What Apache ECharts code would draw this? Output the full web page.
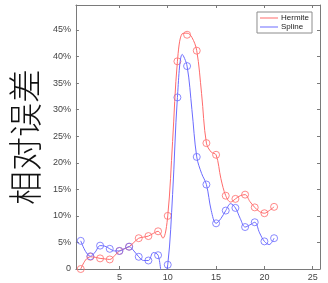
<!DOCTYPE html>
<html>
<head>
<meta charset="utf-8">
<script src="https://cdn.jsdelivr.net/npm/echarts@6/dist/echarts.min.js"></script>
<style>
  html, body { margin: 0; padding: 0; background: #fff; }
  #chart { width: 328px; height: 283px; }
</style>
</head>
<body>
<div id="chart"></div>
<script>
// 표본 점 (x = 1..21)
const xs = [1,2,3,4,5,6,7,8,9,10,11,12,13,14,15,16,17,18,19,20,21];
const hermite = [0,2.3,2.0,1.8,3.4,4.2,5.8,6.2,7.1,10.0,39.1,44.1,41.1,23.7,21.5,13.8,13.2,14.0,11.6,10.5,11.7];
const spline  = [5.3,2.4,4.4,3.8,3.4,4.2,2.3,1.6,2.6,0.8,32.3,38.2,21.1,15.9,8.6,11.0,11.5,7.9,8.8,5.2,5.8];

// 보간 곡선 (0.5 간격, 그림에서 읽은 값)
const curveX = [1,1.5,2,2.5,3,3.5,4,4.5,5,5.5,6,6.5,7,7.5,8,8.5,9,9.5,10,10.5,11,11.5,12,12.5,13,13.5,14,14.5,15,15.5,16,16.5,17,17.5,18,18.5,19,19.5,20,20.5,21];
const hermiteCurve = [0,1.7,2.3,2.2,2.0,1.9,1.8,2.5,3.4,3.8,4.2,5.0,5.8,6.0,6.2,6.7,7.1,5.8,10.0,24,39.1,44.3,44.4,43.6,41.1,33,23.7,22.0,21.5,17.0,13.8,12.6,13.2,13.8,14.0,12.7,11.6,10.8,10.5,11.0,11.7];
const splineCurve  = [5.3,3.3,2.4,3.2,4.4,4.3,3.8,3.4,3.4,3.8,4.2,3.4,2.3,1.6,1.6,3.1,2.6,-2.0,0.8,14,32.3,40.4,38.2,30,21.1,18,15.9,11,8.6,9.5,11.0,12.3,11.5,9.5,7.9,8.3,8.8,6.8,5.2,4.6,5.8];

const xTicks = [5,10,15,20,25];
const yTicks = [0,5,10,15,20,25,30,35,40,45];

const RED = '#ff6b6b';
const BLUE = '#6b6bff';
const AXIS = '#7a7a7a';

const pairs = (a, b) => a.map((v, i) => [v, b[i]]);

const chart = echarts.init(document.getElementById('chart'));

const tickStyle = (vals) => ({ show: true, inside: true, length: 3, customValues: vals, lineStyle: { color: AXIS } });

chart.setOption({
  animation: false,
  grid: { left: 56, right: 8, top: 5, bottom: 14 },
  legend: {
    orient: 'vertical',
    right: 16, top: 12,
    padding: [2, 3, 2, 3],
    itemGap: 1,
    itemWidth: 18, itemHeight: 1,
    icon: 'rect',
    borderColor: '#8c8c8c', borderWidth: 1,
    backgroundColor: '#fff',
    textStyle: { fontSize: 8, color: '#222', fontFamily: 'Liberation Sans', padding: [0, 0, 0, -2] },
    data: ['Hermite', 'Spline']
  },
  xAxis: [
    {
      type: 'value', min: 0.5, max: 25.75,
      axisLine: { show: true, lineStyle: { color: AXIS } },
      axisTick: tickStyle(xTicks),
      axisLabel: { customValues: xTicks, fontSize: 9, color: '#444', margin: 4, fontFamily: 'Liberation Sans' },
      splitLine: { show: false }
    },
    {
      type: 'value', position: 'top', min: 0.5, max: 25.75,
      axisLine: { show: true, onZero: false, lineStyle: { color: AXIS } },
      axisTick: tickStyle(xTicks),
      axisLabel: { show: false },
      splitLine: { show: false }
    }
  ],
  yAxis: [
    {
      type: 'value', min: 0, max: 49.7,
      name: '相对误差',
      nameLocation: 'middle',
      nameGap: 28,
      nameTextStyle: { fontSize: 34, color: '#111', fontFamily: 'Noto Sans CJK SC', fontWeight: 300 },
      axisLine: { show: true, lineStyle: { color: AXIS } },
      axisTick: tickStyle(yTicks),
      axisLabel: {
        customValues: yTicks, fontSize: 9, color: '#444', margin: 5, fontFamily: 'Liberation Sans',
        formatter: v => v === 0 ? '0' : v + '%'
      },
      splitLine: { show: false }
    },
    {
      type: 'value', position: 'right', min: 0, max: 49.7,
      axisLine: { show: true, onZero: false, lineStyle: { color: AXIS } },
      axisTick: tickStyle(yTicks),
      axisLabel: { show: false },
      splitLine: { show: false }
    }
  ],
  series: [
    {
      name: 'Hermite', type: 'line', smooth: 0.35, symbol: 'none', clip: true,
      data: pairs(curveX, hermiteCurve),
      lineStyle: { color: RED, width: 1 }, itemStyle: { color: RED }
    },
    {
      name: 'Spline', type: 'line', smooth: 0.35, symbol: 'none', clip: true,
      data: pairs(curveX, splineCurve),
      lineStyle: { color: BLUE, width: 1 }, itemStyle: { color: BLUE }
    },
    {
      name: 'hermitePts', type: 'scatter', symbol: 'circle', symbolSize: 7,
      data: pairs(xs, hermite),
      itemStyle: { color: 'rgba(0,0,0,0)', borderColor: RED, borderWidth: 1 }
    },
    {
      name: 'splinePts', type: 'scatter', symbol: 'circle', symbolSize: 7,
      data: pairs(xs, spline),
      itemStyle: { color: 'rgba(0,0,0,0)', borderColor: BLUE, borderWidth: 1 }
    }
  ]
});
</script>
</body>
</html>
